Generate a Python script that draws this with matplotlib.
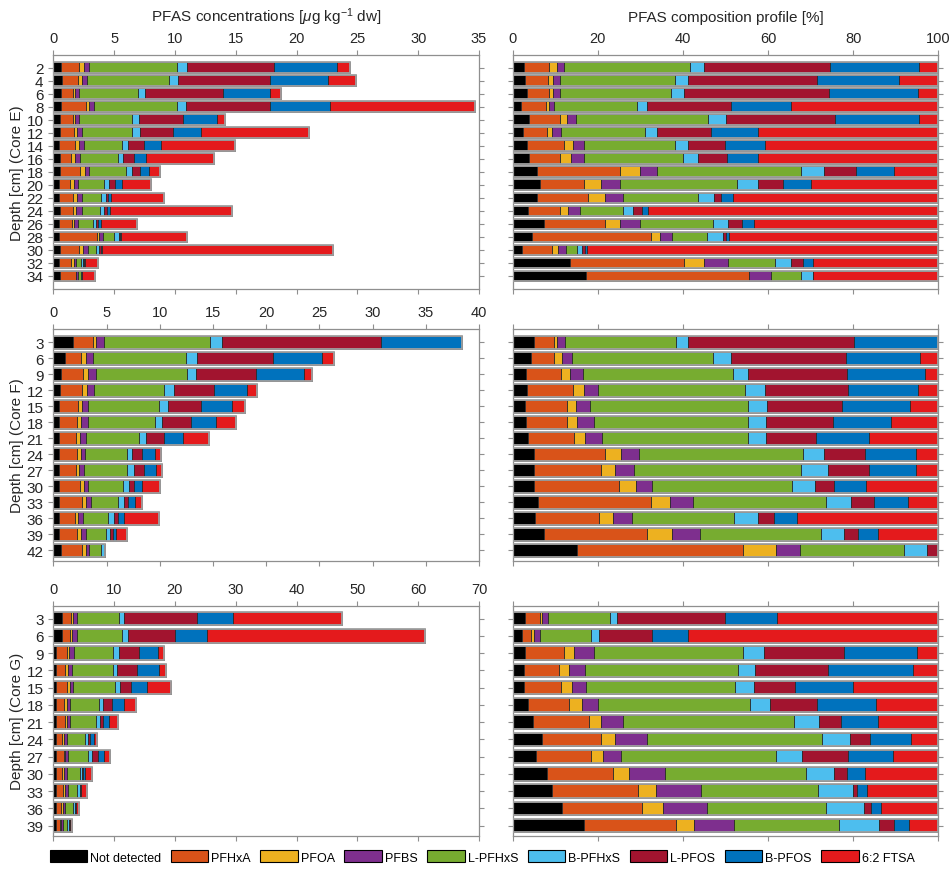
import numpy as np
import matplotlib
matplotlib.use("Agg")
import matplotlib.pyplot as plt
from matplotlib.patches import Patch

plt.rcParams['font.family'] = ['Liberation Sans', 'DejaVu Sans']
plt.rcParams['mathtext.fontset'] = 'custom'
plt.rcParams['mathtext.rm'] = 'Liberation Sans'
plt.rcParams['mathtext.it'] = 'Liberation Sans:italic'

compounds = ['Not detected', 'PFHxA', 'PFOA', 'PFBS', 'L-PFHxS',
             'B-PFHxS', 'L-PFOS', 'B-PFOS', '6:2 FTSA']
colors = ['#000000', '#D95319', '#EDB120', '#7E2F8E', '#77AC30',
          '#4DBEEE', '#A2142F', '#0072BD', '#E41A1C']

# ---------------- Core E ----------------
depth_E = [2, 4, 6, 8, 10, 12, 14, 16, 18, 20, 22, 24, 26, 28, 30, 32, 34]
total_E = [24.4, 24.9, 18.7, 34.7, 14.1, 21.0, 14.9, 13.2, 8.8, 8.0, 9.1,
           14.7, 6.9, 11.0, 23.0, 3.7, 3.4]
# composition [%] per depth: ND, PFHxA, PFOA, PFBS, L-PFHxS, B-PFHxS, L-PFOS, B-PFOS, 6:2 FTSA
pct_E = [
    [2.7, 5.9, 1.7, 1.7, 29.7, 3.2, 29.6, 21.0, 4.5],
    [2.8, 5.5, 1.2, 1.6, 27.0, 3.2, 30.3, 19.2, 9.2],
    [3.4, 5.2, 0.9, 1.6, 26.1, 3.1, 34.1, 20.9, 4.7],
    [1.9, 5.9, 0.7, 1.1, 19.6, 2.3, 19.9, 14.1, 34.5],
    [3.8, 7.4, 1.6, 2.1, 31.1, 4.1, 25.6, 19.8, 4.5],
    [2.5, 5.6, 1.1, 2.2, 19.6, 2.8, 12.9, 11.0, 42.3],
    [3.4, 8.6, 2.1, 2.6, 21.4, 3.0, 8.7, 9.4, 40.8],
    [3.9, 7.1, 2.7, 3.0, 23.4, 3.5, 6.8, 7.3, 42.3],
    [5.8, 19.3, 4.7, 4.0, 34.0, 5.3, 7.5, 9.0, 10.4],
    [6.3, 10.4, 4.1, 4.3, 27.5, 5.1, 5.7, 6.8, 29.8],
    [5.6, 12.0, 4.1, 4.2, 17.6, 3.8, 1.7, 2.7, 48.3],
    [3.5, 7.5, 1.9, 2.9, 10.2, 2.2, 2.1, 1.5, 68.2],
    [7.3, 14.4, 3.5, 4.6, 17.2, 3.7, 3.1, 3.0, 43.2],
    [4.6, 28.0, 1.9, 2.9, 8.3, 3.6, 0.7, 0.9, 49.1],
    [2.3, 6.9, 1.5, 1.8, 2.7, 1.2, 0.5, 0.6, 82.5],
    [13.5, 26.8, 4.6, 5.6, 11.2, 3.8, 2.7, 2.4, 29.4],
    [17.3, 38.3, 0.0, 5.0, 7.1, 2.8, 0.0, 0.0, 29.5],
]

# ---------------- Core F ----------------
depth_F = [3, 6, 9, 12, 15, 18, 21, 24, 27, 30, 33, 36, 39, 42]
total_F = [38.4, 26.4, 24.3, 19.1, 18.0, 17.2, 14.6, 10.1, 10.2, 10.0, 8.3,
           9.9, 6.9, 4.9]
pct_F = [
    [4.9, 4.7, 0.8, 2.0, 25.9, 3.0, 39.0, 19.7, 0.0],
    [4.2, 5.6, 1.8, 2.4, 33.1, 4.2, 26.9, 17.6, 4.2],
    [3.1, 8.3, 2.1, 3.1, 35.1, 3.5, 23.3, 18.4, 3.1],
    [3.3, 10.8, 2.7, 3.2, 34.5, 4.7, 19.7, 16.3, 4.8],
    [2.9, 9.8, 2.1, 3.4, 37.0, 4.5, 17.6, 16.0, 6.7],
    [3.1, 9.7, 2.3, 3.9, 36.4, 4.1, 15.7, 13.8, 11.0],
    [3.6, 10.8, 2.6, 3.9, 34.3, 4.4, 11.6, 12.4, 16.4],
    [5.1, 16.7, 3.7, 4.1, 38.7, 4.8, 9.7, 11.9, 5.3],
    [5.0, 15.7, 3.4, 4.3, 39.3, 6.4, 9.7, 11.0, 5.2],
    [5.1, 19.8, 4.1, 3.7, 32.9, 5.4, 4.6, 7.5, 16.9],
    [6.0, 26.4, 4.6, 5.4, 31.1, 6.1, 5.4, 7.8, 7.2],
    [5.2, 15.0, 3.3, 4.5, 24.1, 5.5, 3.9, 5.2, 33.3],
    [7.3, 24.3, 5.8, 6.5, 28.5, 5.4, 3.4, 4.6, 14.2],
    [15.1, 39.0, 7.8, 5.6, 24.5, 5.3, 2.7, 0.0, 0.0],
]

# ---------------- Core G ----------------
depth_G = [3, 6, 9, 12, 15, 18, 21, 24, 27, 30, 33, 36, 39]
total_G = [47.5, 61.1, 18.2, 18.5, 19.3, 13.6, 10.6, 7.2, 9.3, 6.3, 5.5, 4.3, 3.0]
pct_G = [
    [3.0, 3.3, 0.6, 1.3, 14.7, 1.7, 25.2, 12.4, 37.8],
    [2.3, 2.1, 0.6, 1.3, 12.2, 1.7, 12.5, 8.6, 58.7],
    [2.8, 9.3, 2.2, 4.7, 35.2, 4.8, 18.8, 17.1, 5.1],
    [2.7, 8.1, 2.4, 3.7, 36.0, 4.0, 17.3, 19.9, 5.9],
    [2.7, 8.7, 2.5, 3.3, 35.1, 4.3, 9.8, 13.5, 20.1],
    [3.7, 9.5, 3.2, 3.6, 35.8, 4.7, 10.9, 14.0, 14.6],
    [4.8, 13.1, 2.9, 5.1, 40.3, 5.8, 5.2, 8.7, 14.1],
    [7.0, 13.7, 3.4, 7.4, 41.2, 6.5, 4.8, 9.7, 6.3],
    [5.5, 12.8, 2.8, 4.3, 36.5, 6.1, 10.9, 10.4, 10.7],
    [8.0, 15.5, 3.9, 8.5, 33.1, 6.5, 3.1, 4.1, 17.3],
    [9.3, 20.1, 4.3, 10.5, 27.5, 8.2, 1.1, 2.2, 16.8],
    [11.7, 18.6, 5.0, 10.4, 27.8, 9.0, 1.7, 2.3, 13.5],
    [16.8, 21.5, 4.4, 9.4, 24.6, 9.4, 3.6, 3.3, 7.0],
]

cores = [
    ('E', depth_E, total_E, pct_E, (0, 36), 1.65, np.arange(0, 36, 5), (0, 35)),
    ('F', depth_F, total_F, pct_F, (0.5, 44.0), 2.35, np.arange(0, 41, 5), (0, 40)),
    ('G', depth_G, total_G, pct_G, (0.75, 40.75), 2.35, np.arange(0, 71, 10), (0, 70)),
]

W, H = 951, 870
fig = plt.figure(figsize=(W / 100, H / 100), dpi=100)

rows_px = [(55.7, 290.0), (330.0, 562.0), (606.7, 836.7)]
left_px = (53.3, 479.0)
right_px = (512.7, 938.3)

spine_col = '#8f8f8f'
text_col = '#262626'
fs = 10.5


def px_axes(xr, yr):
    return fig.add_axes([xr[0] / W, 1 - yr[1] / H, (xr[1] - xr[0]) / W,
                         (yr[1] - yr[0]) / H])


def style(ax):
    for s in ax.spines.values():
        s.set_color(spine_col)
        s.set_linewidth(0.9)
    ax.tick_params(direction='out', length=3.5, width=0.8, color=spine_col,
                   labelcolor=text_col, labelsize=fs,
                   top=True, bottom=True, left=True, right=True,
                   labeltop=True, labelbottom=False)


def draw_bars(ax, depths, data, height):
    data = np.asarray(data, dtype=float)
    left = np.zeros(len(depths))
    for k in range(data.shape[1]):
        ax.barh(depths, data[:, k], left=left, height=height, color=colors[k],
                edgecolor='#2a2a2a', linewidth=0.6, zorder=2)
        left = left + data[:, k]
    ax.barh(depths, left, height=height, facecolor='none',
            edgecolor='#a0a0a0', linewidth=1.3, zorder=3)


for i, (name, depths, totals, pct, ylim, bh, xt, xl) in enumerate(cores):
    pct_a = np.asarray(pct, dtype=float)
    conc = pct_a * np.asarray(totals)[:, None] / pct_a.sum(axis=1, keepdims=True)
    comp = 100 * pct_a / pct_a.sum(axis=1, keepdims=True)

    axl = px_axes(left_px, rows_px[i])
    draw_bars(axl, depths, conc, bh)
    axl.set_xlim(*xl)
    axl.set_xticks(xt)
    axl.set_ylim(ylim[1], ylim[0])
    axl.set_yticks(depths)
    axl.set_yticklabels([str(d) for d in depths])
    style(axl)
    axl.tick_params(axis='y', labelright=False, labelsize=fs + 0.5)
    axl.set_ylabel('Depth [cm] (Core %s)' % name, fontsize=fs + 0.5,
                   color=text_col, labelpad=2)

    axr = px_axes(right_px, rows_px[i])
    draw_bars(axr, depths, comp, bh)
    axr.set_xlim(0, 100)
    axr.set_xticks(np.arange(0, 101, 20))
    axr.set_ylim(ylim[1], ylim[0])
    axr.set_yticks(depths)
    style(axr)
    axr.tick_params(axis='y', labelleft=False, labelright=False)
    if i > 0:
        axr.tick_params(axis='x', labeltop=False)

    if i == 0:
        axl.set_title(r'PFAS concentrations [$\mu$g kg$^{-1}$ dw]',
                      fontsize=fs + 0.5, color=text_col, pad=24)
        axr.set_title('PFAS composition profile [%]', fontsize=fs + 0.5,
                      color=text_col, pad=24)

handles = [Patch(facecolor=c, edgecolor='black', linewidth=0.8, label=l)
           for c, l in zip(colors, compounds)]
fig.legend(handles=handles, loc='center', bbox_to_anchor=(0.507, 1 - 858 / H),
           ncol=9, frameon=False, handlelength=3.0,
           handleheight=1.1, handletextpad=0.25, columnspacing=0.75,
           prop={'family': ['Liberation Sans Narrow', 'Liberation Sans', 'DejaVu Sans'],
                 'size': 9})

fig.savefig('out.png', dpi=100)
